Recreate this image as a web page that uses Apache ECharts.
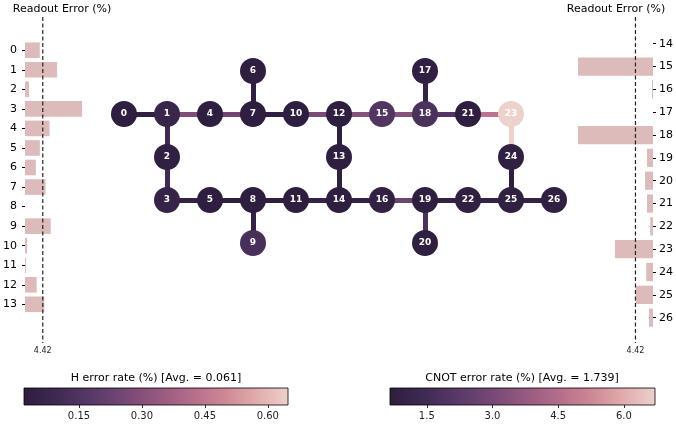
<!DOCTYPE html>
<html><head><meta charset="utf-8">
<script src="https://cdn.jsdelivr.net/npm/echarts@6/dist/echarts.min.js"></script>
<style>html,body{margin:0;padding:0;background:#fff}#c{width:676px;height:427px}</style>
</head><body><div id="c"></div>
<script>
// ---- data ----
const qubitCol = [0,1,1,1,2,2,3,3,3,3,4,4,5,5,5,6,6,7,7,7,7,8,8,9,9,9,10];
const qubitRow = [1,1,2,3,1,3,0,1,3,4,1,3,1,2,3,1,3,0,1,3,4,1,3,1,2,3,3];
const hError = [0.022,0.07,0.035,0.06,0.025,0.025,0.025,0.022,0.025,0.13,0.025,0.025,0.022,0.025,0.025,0.16,0.04,0.035,0.14,0.03,0.03,0.022,0.035,0.648,0.035,0.035,0.035];
const edgeA = [0,1,4,7,10,12,15,18,21,23,1,2,3,5,8,8,11,12,13,14,16,19,19,22,25,24,6,17];
const edgeB = [1,4,7,10,12,15,18,21,23,24,2,3,5,8,9,11,14,13,14,16,19,20,22,25,26,25,7,18];
const cxError = [0.75,3.2,2.9,0.75,3.1,3.4,3.4,2.0,4.7,6.71,1.4,1.4,1.0,0.75,1.0,0.75,1.0,0.75,0.75,1.0,2.8,1.8,1.0,1.0,1.0,0.75,0.75,1.0];
const readoutLeftQubits = [0,1,2,3,4,5,6,7,8,9,10,11,12,13];
const readoutLeft = [3.68,8.0,1.0,14.2,6.1,3.7,2.7,5.1,0,6.4,0.5,0.25,2.9,4.8];
const readoutRightQubits = [14,15,16,17,18,19,20,21,22,23,24,25,26];
const readoutRight = [0,18.9,0.25,0,18.9,1.5,2.0,1.5,0.7,9.6,1.7,4.4,1.0];
const readoutAvg = 4.42;
const readoutMax = 18.9;
const hAvg = 0.061, cxAvg = 1.739;
const hRange = [0.019, 0.648];
const cxRange = [0.66, 6.71];
const hTicks = [0.15, 0.30, 0.45, 0.60];
const cxTicks = [1.5, 3.0, 4.5, 6.0];

// ---- colormap (seaborn cubehelix reversed) ----
const cmap = ['#2d1e3e','#3e2a52','#573867','#744774','#93587f','#b26b89','#cc8594','#e0aaac','#edd1cb'];
function hex2rgb(h){return [parseInt(h.slice(1,3),16),parseInt(h.slice(3,5),16),parseInt(h.slice(5,7),16)];}
function colorAt(t){
  t=Math.max(0,Math.min(1,t));
  const n=cmap.length-1, f=t*n, i=Math.min(n-1,Math.floor(f)), u=f-i;
  const a=hex2rgb(cmap[i]), b=hex2rgb(cmap[i+1]);
  return 'rgb('+a.map((v,k)=>Math.round(v+(b[k]-v)*u)).join(',')+')';
}
const norm=(v,r)=>(v-r[0])/(r[1]-r[0]);
const gradStops = cmap.map((c,i)=>({offset:i/(cmap.length-1), color:c}));

const FONT = 'DejaVu Sans';
const chart = echarts.init(document.getElementById('c'), null, {renderer:'canvas'});

const nodes = qubitCol.map((c,i)=>({value:[c, qubitRow[i]], itemStyle:{color:colorAt(norm(hError[i],hRange))}}));
const links = edgeA.map((a,i)=>({source:a, target:edgeB[i], lineStyle:{color:colorAt(norm(cxError[i],cxRange)), width:5, opacity:1, curveness:0}}));

function barItem(params, api){
  const v=api.value(0), q=api.value(1);
  const p0=api.coord([0,q-0.4]), p1=api.coord([v,q+0.4]);
  return {type:'rect', shape:{x:Math.min(p0[0],p1[0]), y:Math.min(p0[1],p1[1]), width:Math.abs(p1[0]-p0[0]), height:Math.abs(p1[1]-p0[1])}, style:{fill:'#DDBBBA'}};
}
function cbarItem(params, api){
  const p0=api.coord([api.value(0),1]), p1=api.coord([api.value(1),0]);
  return {type:'rect', shape:{x:p0[0], y:p0[1], width:p1[0]-p0[0], height:p1[1]-p0[1]},
    style:{fill:new echarts.graphic.LinearGradient(0,0,1,0,gradStops), stroke:'#000', lineWidth:0.8}};
}

const ltxt = {fontFamily:FONT, fontSize:11, color:'#000'};

const option = {
  animation:false,
  textStyle:{fontFamily:FONT},
  grid:[
    {left:124, width:430, top:71, height:172},   // map
    {left:24, width:77, top:17, height:326},     // readout left
    {left:578, width:77, top:17, height:326},    // readout right
    {left:24, width:264, top:388, height:17},    // H colorbar
    {left:390, width:265, top:388, height:17}    // CX colorbar
  ],
  xAxis:[
    {gridIndex:0, type:'value', min:0, max:10, show:false},
    {gridIndex:1, type:'value', min:0, max:readoutMax, axisLine:{show:false}, splitLine:{show:false},
      axisTick:{show:false}, axisLabel:{customValues:[readoutAvg], formatter:v=>v.toFixed(2), fontSize:8, color:'#222', margin:4, fontFamily:FONT}},
    {gridIndex:2, type:'value', min:0, max:readoutMax, inverse:true, axisLine:{show:false}, splitLine:{show:false},
      axisTick:{show:false}, axisLabel:{customValues:[readoutAvg], formatter:v=>v.toFixed(2), fontSize:8, color:'#222', margin:4, fontFamily:FONT}},
    {gridIndex:3, type:'value', min:hRange[0], max:hRange[1], axisLine:{show:false}, splitLine:{show:false},
      axisTick:{show:true, customValues:hTicks, length:3, lineStyle:{color:'#333'}},
      axisLabel:{customValues:hTicks, formatter:v=>v.toFixed(2), fontSize:10, color:'#222', margin:6, fontFamily:FONT}},
    {gridIndex:4, type:'value', min:cxRange[0], max:cxRange[1], axisLine:{show:false}, splitLine:{show:false},
      axisTick:{show:true, customValues:cxTicks, length:3, lineStyle:{color:'#333'}},
      axisLabel:{customValues:cxTicks, formatter:v=>v.toFixed(1), fontSize:10, color:'#222', margin:6, fontFamily:FONT}}
  ],
  yAxis:[
    {gridIndex:0, type:'value', min:0, max:4, inverse:true, show:false},
    {gridIndex:1, type:'value', min:-1.70, max:14.98, inverse:true, axisLine:{show:false}, splitLine:{show:false},
      axisTick:{show:true, customValues:readoutLeftQubits, length:3, lineStyle:{color:'#000'}},
      axisLabel:Object.assign({customValues:readoutLeftQubits, margin:8}, ltxt)},
    {gridIndex:2, type:'value', position:'right', min:12.83, max:27.11, inverse:true, axisLine:{show:false}, splitLine:{show:false},
      axisTick:{show:true, customValues:readoutRightQubits, length:3, lineStyle:{color:'#000'}},
      axisLabel:Object.assign({customValues:readoutRightQubits, margin:6}, ltxt)},
    {gridIndex:3, type:'value', min:0, max:1, show:false},
    {gridIndex:4, type:'value', min:0, max:1, show:false}
  ],
  graphic:[
    {type:'text', x:62, y:4, style:{text:'Readout Error (%)', font:'11px "DejaVu Sans"', fill:'#000', textAlign:'center'}},
    {type:'text', x:616, y:4, style:{text:'Readout Error (%)', font:'11px "DejaVu Sans"', fill:'#000', textAlign:'center'}},
    {type:'text', x:156, y:373, style:{text:'H error rate (%) [Avg. = '+hAvg.toFixed(3)+']', font:'11px "DejaVu Sans"', fill:'#000', textAlign:'center'}},
    {type:'text', x:522, y:373, style:{text:'CNOT error rate (%) [Avg. = '+cxAvg.toFixed(3)+']', font:'11px "DejaVu Sans"', fill:'#000', textAlign:'center'}}
  ],
  series:[
    {type:'graph', coordinateSystem:'cartesian2d', xAxisIndex:0, yAxisIndex:0, layout:'none',
      symbol:'circle', symbolSize:26, data:nodes, links:links, edgeSymbol:['none','none'],
      lineStyle:{opacity:1, width:5}, emphasis:{disabled:true}, silent:true,
      label:{show:true, position:'inside', formatter:p=>String(p.dataIndex), color:'#fff', fontWeight:'bold', fontSize:9, fontFamily:FONT}},
    {type:'custom', xAxisIndex:1, yAxisIndex:1, renderItem:barItem, encode:{x:0,y:1}, silent:true,
      data:readoutLeft.map((v,i)=>[v, readoutLeftQubits[i]])},
    {type:'custom', xAxisIndex:2, yAxisIndex:2, renderItem:barItem, encode:{x:0,y:1}, silent:true,
      data:readoutRight.map((v,i)=>[v, readoutRightQubits[i]])},
    {type:'line', xAxisIndex:1, yAxisIndex:1, symbol:'none', silent:true, z:5,
      lineStyle:{color:'#222', width:1.2, type:[4,2.5]}, data:[[readoutAvg,-1.70],[readoutAvg,14.98]]},
    {type:'line', xAxisIndex:2, yAxisIndex:2, symbol:'none', silent:true, z:5,
      lineStyle:{color:'#222', width:1.2, type:[4,2.5]}, data:[[readoutAvg,12.83],[readoutAvg,27.11]]},
    {type:'custom', xAxisIndex:3, yAxisIndex:3, renderItem:cbarItem, silent:true, encode:{x:[0,1]}, data:[[hRange[0],hRange[1]]]},
    {type:'custom', xAxisIndex:4, yAxisIndex:4, renderItem:cbarItem, silent:true, encode:{x:[0,1]}, data:[[cxRange[0],cxRange[1]]]}
  ]
};
chart.setOption(option);
</script></body></html>
